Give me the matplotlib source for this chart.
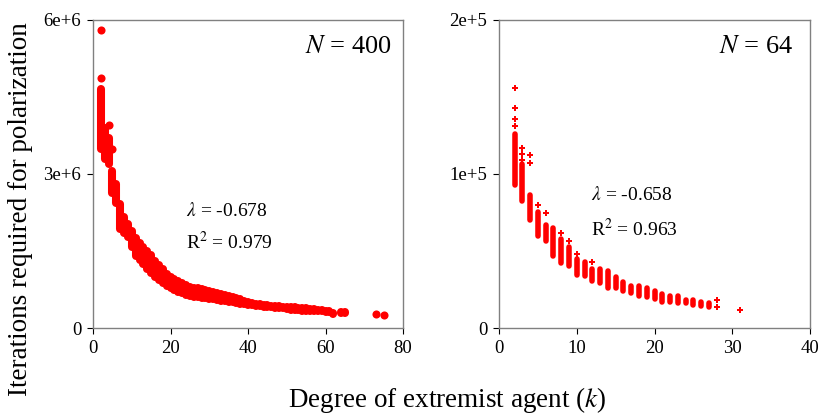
import numpy as np
import matplotlib
import matplotlib.pyplot as plt
matplotlib.use('Agg')

plt.rcParams['font.family'] = ['Liberation Serif', 'DejaVu Serif']
plt.rcParams['mathtext.fontset'] = 'stix'

# N = 400 : degree k, top and bottom of the column of runs (millions of iterations)
k400 = [2, 3, 4, 5, 6, 7, 8, 9, 10, 11, 12, 13, 14, 15, 16, 17, 18, 19, 20,
        21, 22, 23, 24, 25, 26, 27, 28, 29, 30, 31, 32, 33, 34, 35, 36, 37, 38,
        39, 40, 41, 42, 43, 44, 45, 46, 47, 48, 49, 50, 51, 52, 53, 54, 55, 56,
        57, 58, 59, 60, 61, 62, 64, 65]
hi400 = [4.66, 3.90, 3.70, 3.06, 2.81, 2.42, 2.16, 2.03, 1.88, 1.75, 1.66, 1.58,
         1.50, 1.42, 1.30, 1.22, 1.15, 1.06, 0.99, 0.95, 0.92, 0.88, 0.84, 0.80,
         0.78, 0.77, 0.75, 0.74, 0.72, 0.71, 0.68, 0.66, 0.64, 0.62, 0.61, 0.59,
         0.56, 0.53, 0.50, 0.48, 0.47, 0.46, 0.45, 0.44, 0.43, 0.43, 0.42, 0.41,
         0.41, 0.40, 0.40, 0.39, 0.38, 0.38, 0.37, 0.37, 0.36, 0.35, 0.34, 0.33,
         0.30, 0.31, 0.32]
lo400 = [3.49, 3.30, 3.20, 2.63, 2.44, 1.93, 1.85, 1.78, 1.58, 1.40, 1.32, 1.24,
         1.15, 1.08, 1.00, 0.93, 0.88, 0.82, 0.77, 0.74, 0.70, 0.68, 0.65, 0.62,
         0.61, 0.60, 0.59, 0.58, 0.57, 0.56, 0.54, 0.53, 0.52, 0.51, 0.50, 0.49,
         0.47, 0.46, 0.45, 0.44, 0.43, 0.42, 0.41, 0.40, 0.40, 0.39, 0.38, 0.38,
         0.37, 0.36, 0.36, 0.35, 0.34, 0.34, 0.34, 0.33, 0.33, 0.33, 0.32, 0.31,
         0.28, 0.29, 0.29]
# single runs outside the columns
k400_out = [2, 2, 4, 5, 73, 75]
v400_out = [5.80, 4.87, 3.95, 3.49, 0.27, 0.25]

# N = 64 : (units of 1e5 iterations)
k64 = [2, 3, 4, 5, 6, 7, 8, 9, 10, 11, 12, 13, 14, 15, 16, 17, 18, 19, 20,
       21, 22, 23, 24, 25, 26, 27]
hi64 = [1.26, 1.065, 0.864, 0.753, 0.669, 0.649, 0.578, 0.526, 0.448, 0.429,
        0.383, 0.383, 0.370, 0.331, 0.300, 0.273, 0.270, 0.260, 0.240, 0.220,
        0.210, 0.205, 0.180, 0.185, 0.170, 0.160]
lo64 = [0.93, 0.825, 0.700, 0.597, 0.565, 0.468, 0.422, 0.403, 0.344, 0.338,
        0.305, 0.292, 0.260, 0.260, 0.240, 0.227, 0.210, 0.200, 0.190, 0.170,
        0.170, 0.160, 0.160, 0.150, 0.140, 0.135]
k64_out = [2, 2, 2, 2, 3, 3, 3, 4, 4, 5, 6, 8, 9, 10, 12, 28, 28, 31]
v64_out = [1.56, 1.43, 1.36, 1.31, 1.17, 1.13, 1.09, 1.12, 1.07, 0.80, 0.747,
           0.617, 0.565, 0.48, 0.429, 0.18, 0.135, 0.117]

red = '#ff0000'
grey = '#808080'

fig = plt.figure(figsize=(8.21, 4.18), dpi=100)
ax1 = fig.add_axes([0.1133, 0.2153, 0.3776, 0.737])
ax2 = fig.add_axes([0.6078, 0.2153, 0.3788, 0.737])

# left panel
ax1.vlines(k400, np.array(lo400) * 1e6, np.array(hi400) * 1e6, colors=red,
           linewidth=5.8, capstyle='round')
ax1.scatter(k400_out, np.array(v400_out) * 1e6, s=34, color=red, linewidths=0)
ax1.set_xlim(0, 80)
ax1.set_ylim(0, 6e6)
ax1.set_xticks([0, 20, 40, 60, 80])
ax1.set_yticks([0, 3e6, 6e6])
ax1.set_yticklabels(['0', '3e+6', '6e+6'])
ax1.text(0.965, 0.912, r'$N$ = 400', transform=ax1.transAxes, ha='right',
         va='center', fontsize=19)
ax1.text(24.0, 2.28e6, r'$\lambda$ = -0.678', fontsize=14, va='center')
ax1.text(24.0, 1.68e6, r'R$^2$ = 0.979', fontsize=14, va='center')

# right panel
ax2.vlines(k64, np.array(lo64) * 1e5, np.array(hi64) * 1e5, colors=red,
           linewidth=4.0, capstyle='round')
ax2.scatter(k64_out, np.array(v64_out) * 1e5, s=16, marker='P', color=red,
            linewidths=0)
ax2.set_xlim(0, 40)
ax2.set_ylim(0, 2e5)
ax2.set_xticks([0, 10, 20, 30, 40])
ax2.set_yticks([0, 1e5, 2e5])
ax2.set_yticklabels(['0', '1e+5', '2e+5'])
ax2.text(0.945, 0.912, r'$N$ = 64', transform=ax2.transAxes, ha='right',
         va='center', fontsize=19)
ax2.text(11.8, 0.864e5, r'$\lambda$ = -0.658', fontsize=14, va='center')
ax2.text(11.8, 0.64e5, r'R$^2$ = 0.963', fontsize=14, va='center')

for ax in (ax1, ax2):
    for sp in ax.spines.values():
        sp.set_color(grey)
        sp.set_linewidth(1.0)
    ax.tick_params(direction='out', length=4.5, width=0.8, labelsize=13.5,
                   color='black', pad=4)

fig.text(0.025, 0.5, 'Iterations required for polarization', rotation=90,
         ha='center', va='center', fontsize=19.5)
fig.text(0.545, 0.043, r'Degree of extremist agent ($k$)', ha='center',
         va='center', fontsize=19.5)

fig.savefig('out.png', dpi=100)
